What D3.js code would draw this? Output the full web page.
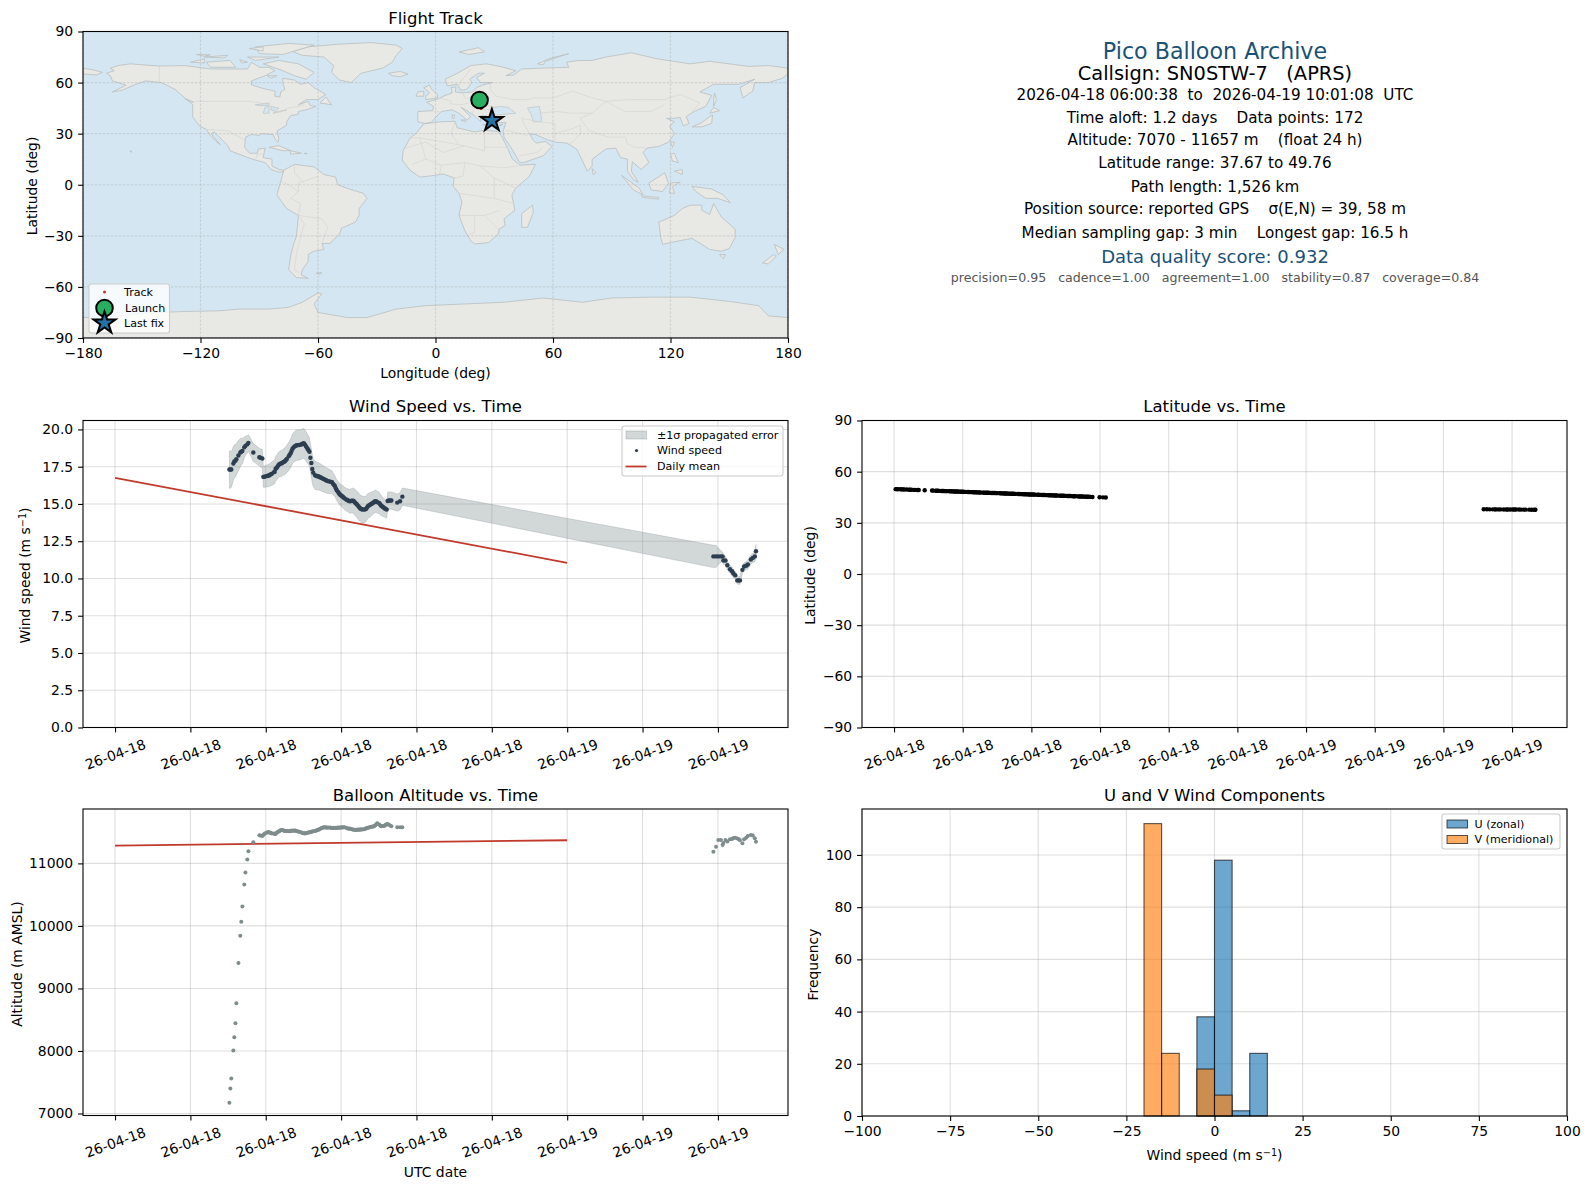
<!DOCTYPE html>
<html>
<head>
<meta charset="utf-8">
<script src="https://cdn.jsdelivr.net/npm/d3@7"></script>
<style>
html, body { margin: 0; background: #fff; }
text { font-family: "DejaVu Sans", sans-serif; fill: #000; white-space: pre; }
</style>
</head>
<body>
<div id="container"></div>
<script>
// hours since 2026-04-18 00:00 UTC
var hours = [
	6.07,6.12,6.17,6.28,6.33,6.39,6.44,6.55,6.65,6.70,6.76,6.86,6.92,7.02,7.08,7.34,
	7.66,7.71,7.82,7.87,7.92,7.97,8.07,8.12,8.17,8.22,
	8.27,8.32,8.42,8.47,8.52,8.57,8.62,8.67,8.72,8.77,
	8.82,8.87,8.92,8.97,9.02,9.07,9.12,9.22,9.27,9.32,
	9.37,9.42,9.47,9.52,9.57,9.62,9.67,9.72,9.77,9.87,
	9.92,9.97,10.02,10.07,10.12,10.17,10.22,10.27,10.32,10.37,
	10.42,10.47,10.52,10.62,10.67,10.72,10.77,10.82,10.87,10.92,
	10.97,11.02,11.07,11.12,11.17,11.22,11.27,11.32,11.42,11.47,
	11.52,11.57,11.62,11.67,11.72,11.77,11.82,11.87,11.92,11.97,
	12.02,12.07,12.12,12.17,12.27,12.32,12.37,12.42,12.47,12.52,
	12.57,12.62,12.67,12.72,12.77,12.82,12.87,12.92,12.97,13.02,
	13.07,13.12,13.22,13.27,13.32,13.37,13.42,13.47,13.52,13.57,
	13.62,13.67,13.72,13.77,13.82,13.87,13.92,14.02,14.07,14.12,
	14.17,14.22,14.27,14.32,14.37,14.42,14.47,14.53,14.60,14.67,
	14.98,15.13,15.25,
	31.76,31.90,32.02,32.16,32.25,32.29,32.40,32.50,32.64,32.75,32.82,32.92,
	33.03,33.10,33.17,33.30,33.39,33.50,33.59,33.75,33.85,33.96,34.02
];
var windSpeed = [
	17.31,17.31,17.31,17.71,17.85,17.90,18.00,18.25,18.45,18.50,18.55,18.80,18.90,19.00,19.10,18.45,
	18.14,18.10,18.05,16.82,16.82,16.85,16.88,16.90,16.91,16.95,
	17.00,17.02,17.12,17.15,17.35,17.42,17.50,17.60,17.66,17.70,
	17.72,17.75,17.80,17.84,17.87,17.95,18.02,18.20,18.30,18.40,
	18.55,18.70,18.78,18.85,18.90,18.92,18.95,18.95,18.96,18.98,
	19.02,19.05,19.07,19.00,18.90,18.80,18.70,18.60,18.50,18.10,
	17.75,17.35,17.10,16.92,16.90,16.88,16.85,16.85,16.80,16.78,
	16.75,16.70,16.68,16.65,16.60,16.58,16.55,16.52,16.50,16.48,
	16.46,16.35,16.28,16.20,16.05,15.92,15.83,15.75,15.65,15.60,
	15.55,15.50,15.45,15.38,15.30,15.27,15.24,15.20,15.18,15.20,
	15.22,15.22,15.20,15.12,15.05,15.00,14.92,14.85,14.76,14.70,
	14.66,14.63,14.62,14.64,14.66,14.75,14.85,14.90,14.93,14.98,
	15.02,15.05,15.10,15.15,15.18,15.16,15.12,15.07,14.98,14.90,
	14.85,14.80,14.75,14.70,14.66,14.62,15.20,15.23,15.23,15.23,
	15.09,15.18,15.49,
	11.48,11.48,11.48,11.48,11.48,11.21,11.21,10.89,10.62,10.49,10.33,10.22,
	9.87,9.87,9.87,10.58,10.80,10.85,10.94,11.27,11.38,11.48,11.83
];
var windSigma = [
	1.25,1.25,1.20,1.15,1.10,1.10,1.05,1.00,0.95,0.90,0.85,0.70,0.65,0.60,0.55,0.60,
	0.60,0.60,0.62,0.70,0.72,0.72,0.74,0.75,0.76,0.76,
	0.78,0.78,0.80,0.80,0.82,0.82,0.84,0.85,0.86,0.86,
	0.87,0.88,0.88,0.90,0.90,0.90,0.92,0.94,0.95,0.96,
	0.98,1.00,1.00,1.00,1.02,1.02,1.02,1.02,1.02,1.00,
	1.00,1.00,1.00,1.00,0.98,0.98,0.98,0.96,0.96,0.96,
	0.95,0.95,0.94,0.94,0.94,0.92,0.92,0.92,0.90,0.90,
	0.90,0.88,0.88,0.86,0.86,0.85,0.84,0.84,0.80,0.78,
	0.76,0.74,0.72,0.70,0.70,0.70,0.70,0.72,0.72,0.72,
	0.74,0.74,0.75,0.75,0.76,0.76,0.78,0.78,0.80,0.82,
	0.82,0.84,0.85,0.86,0.88,0.88,0.90,0.90,0.90,0.90,
	0.90,0.90,0.88,0.88,0.86,0.85,0.85,0.82,0.82,0.80,
	0.80,0.78,0.76,0.75,0.75,0.74,0.74,0.72,0.70,0.68,
	0.66,0.64,0.62,0.60,0.60,0.58,0.58,0.58,0.58,0.58,
	0.58,0.58,0.58,
	0.75,0.75,0.55,0.40,0.30,0.28,0.28,0.28,0.27,0.27,0.27,0.26,
	0.26,0.26,0.26,0.26,0.26,0.28,0.30,0.30,0.30,0.35,0.45
];
var altitude = [
	7173,7398,7559,8009,8218,8443,8765,9408,9842,10067,10309,10662,10855,11064,11193,11338,
	11450,11445,11438,11455,11470,11482,11495,11500,11502,11492,
	11485,11480,11478,11475,11471,11490,11500,11509,11515,11528,
	11534,11536,11530,11524,11520,11523,11518,11520,11516,11520,
	11527,11524,11522,11526,11525,11520,11515,11512,11508,11500,
	11492,11488,11484,11480,11482,11486,11490,11494,11498,11502,
	11506,11510,11514,11520,11526,11531,11536,11544,11552,11560,
	11566,11572,11578,11576,11580,11574,11570,11575,11573,11568,
	11565,11570,11566,11572,11568,11568,11574,11570,11576,11572,
	11578,11575,11580,11578,11570,11562,11560,11556,11557,11550,
	11546,11544,11540,11538,11538,11536,11541,11538,11544,11540,
	11546,11544,11548,11555,11560,11568,11572,11573,11578,11582,
	11585,11590,11589,11600,11612,11628,11643,11622,11606,11596,
	11598,11597,11600,11605,11618,11625,11632,11620,11605,11595,
	11578,11578,11578,
	11187,11268,11375,11375,11295,11325,11375,11350,11385,11391,11405,11412,
	11400,11391,11370,11321,11385,11412,11440,11455,11445,11402,11348
];
var latitude = [
	49.76,49.74,49.70,49.66,49.62,49.60,49.57,49.51,49.46,49.43,49.40,49.34,49.31,49.26,49.23,49.09,
	48.92,48.90,48.84,48.81,48.78,48.75,48.70,48.67,48.65,48.62,
	48.59,48.57,48.51,48.49,48.46,48.43,48.41,48.38,48.35,48.33,
	48.30,48.27,48.25,48.22,48.19,48.17,48.14,48.09,48.06,48.03,
	48.01,47.98,47.95,47.93,47.90,47.87,47.85,47.82,47.79,47.74,
	47.71,47.69,47.66,47.63,47.61,47.58,47.55,47.53,47.50,47.47,
	47.45,47.42,47.39,47.34,47.31,47.29,47.26,47.23,47.21,47.18,
	47.15,47.13,47.10,47.07,47.05,47.02,46.99,46.97,46.91,46.89,
	46.86,46.83,46.81,46.78,46.75,46.73,46.70,46.67,46.65,46.62,
	46.59,46.57,46.54,46.51,46.46,46.43,46.41,46.38,46.35,46.33,
	46.30,46.27,46.25,46.22,46.19,46.17,46.14,46.11,46.09,46.06,
	46.03,46.01,45.95,45.93,45.90,45.87,45.85,45.82,45.79,45.77,
	45.74,45.71,45.69,45.66,45.63,45.61,45.58,45.53,45.50,45.47,
	45.45,45.42,45.39,45.37,45.34,45.31,45.29,45.25,45.21,45.18,
	45.02,44.94,44.87,
	37.95,37.93,37.92,37.91,37.90,37.89,37.88,37.87,37.85,37.84,37.83,37.82,
	37.81,37.80,37.79,37.78,37.76,37.75,37.74,37.72,37.70,37.69,37.67
];
var longitude = [
	22.50,22.50,22.51,22.52,22.52,22.53,22.54,22.54,22.55,22.56,22.56,22.57,22.58,22.58,22.59,22.60,
	22.61,22.61,22.62,22.62,22.63,22.63,22.64,22.64,22.65,22.65,
	22.66,22.66,22.67,22.67,22.68,22.68,22.69,22.69,22.70,22.70,
	22.71,22.71,22.72,22.72,22.73,22.73,22.74,22.74,22.75,22.75,
	22.76,22.76,22.77,22.77,22.78,22.78,22.79,22.79,22.80,22.80,
	22.81,22.81,22.82,22.82,22.83,22.83,22.84,22.84,22.85,22.85,
	22.86,22.86,22.87,22.87,22.88,22.88,22.89,22.89,22.90,22.90,
	22.91,22.91,22.92,22.92,22.93,22.93,22.94,22.94,22.95,22.95,
	22.96,22.96,22.97,22.97,22.98,22.98,22.99,22.99,23.00,23.00,
	23.01,23.01,23.02,23.02,23.03,23.03,23.04,23.04,23.05,23.05,
	23.06,23.06,23.07,23.07,23.08,23.08,23.09,23.09,23.10,23.10,
	23.11,23.11,23.12,23.12,23.13,23.13,23.14,23.14,23.15,23.15,
	23.16,23.16,23.17,23.17,23.18,23.18,23.19,23.19,23.20,23.20,
	23.21,23.21,23.22,23.22,23.23,23.23,23.24,23.24,23.25,23.25,
	23.27,23.28,23.30,
	28.20,28.22,28.24,28.27,28.29,28.30,28.32,28.35,28.38,28.40,28.42,28.45,
	28.48,28.50,28.52,28.55,28.58,28.60,28.62,28.66,28.70,28.74,28.80
];

var launchFix = [22.5, 49.76];
var lastFix = [28.8, 37.67];

var meanHours = [0, 24];
var meanWind = [16.75, 11.05];
var meanAltitude = [11285, 11370];

var binStarts = [-20, -15, -5, 0, 5, 10];
var binWidth = 5;
var uCounts = [0, 0, 38, 98, 2, 24];
var vCounts = [112, 24, 18, 8, 0, 0];

var lonTicks = [-180, -120, -60, 0, 60, 120, 180];
var latTicks = [-90, -60, -30, 0, 30, 60, 90];
var windTicks = [0, 2.5, 5, 7.5, 10, 12.5, 15, 17.5, 20];
var altTicks = [7000, 8000, 9000, 10000, 11000];
var freqTicks = [0, 20, 40, 60, 80, 100];
var histTicks = [-100, -75, -50, -25, 0, 25, 50, 75, 100];

// rough coastlines, lon/lat
var land = [
	// north america
	[[-168,65.5],[-164,67],[-166,68.5],[-162,70],[-156,71],[-141,69.7],[-128,70],[-115,68],[-108,68],[-96,68],[-94,72],[-90,69],[-85,69],[-82,67],[-87,64],[-94,61],[-94,58.7],[-88,56.5],[-82,55],[-82,52],[-79.5,51.5],[-79,54.5],[-77,56],[-78,60],[-78,62.5],[-72,61.5],[-69,59],[-65,60],[-62,57],[-56,53],[-60,50],[-66,50],[-70,47],[-65,49],[-64,46.5],[-61,46],[-66,44],[-70,43],[-70,41.5],[-74,40.5],[-76,37],[-76,35],[-81,31.5],[-80,27],[-80.5,25],[-82,27],[-83,29.5],[-85,29.7],[-89,30],[-90,29],[-94,29.5],[-97,28],[-97.5,22],[-95,18.5],[-91,18.5],[-90.5,21],[-87,21.5],[-88,16],[-83.5,15],[-83.5,11],[-80,9],[-77.5,8.5],[-78,7.5],[-80.5,7.5],[-84,9],[-87,13],[-92,14.5],[-96,16],[-105,20],[-106,23],[-110,27.5],[-113,31],[-114.5,30],[-110,23.5],[-112,25.5],[-115,29],[-117,32.5],[-120.5,34.5],[-124,40],[-124,47],[-128,51],[-133,56],[-140,60],[-148,61],[-153,59],[-160,55.5],[-165,54.5],[-158,58.5],[-165,61],[-166,64]],
	// south america
	[[-77.5,8.5],[-72,12],[-62,10.5],[-57,6],[-51,4.5],[-50,0],[-44,-2.5],[-37,-5],[-35,-8],[-39,-14],[-39,-18],[-41,-22],[-48,-25.5],[-49,-29],[-54,-34.5],[-58,-34.5],[-57,-38],[-62,-39],[-65,-41],[-65,-45],[-68,-50],[-68.5,-53],[-65,-55],[-71,-54.5],[-75,-50],[-74,-42],[-73,-37],[-71,-30],[-70,-18],[-76,-14],[-81,-6],[-80,-2],[-79,2]],
	// africa
	[[-6,35.8],[3,37],[10,37.3],[11,33.5],[20,31],[25,32],[32,31.2],[34,28],[37,21],[39,15.5],[43,11.5],[51,12],[48,5],[41,-2],[39,-6],[40.5,-15],[35,-20],[35.5,-24],[32.5,-26],[32,-29],[27,-34],[20,-34.8],[18,-33],[15,-27],[12,-18],[13.5,-10],[12,-5],[9,-1],[9.5,4],[4,6.3],[-4,5],[-8,4.5],[-13,8.5],[-17,14.5],[-16.5,20],[-13,27.5],[-10,30]],
	// eurasia
	[[-9,37],[-9,43],[-1.5,43.5],[-1,46],[-4.5,48.5],[1.5,50.5],[4,52],[8.5,54],[8,57],[10.5,57.5],[10,54.5],[14,54],[19,54.5],[21,57],[24,58.5],[29,60],[23,60],[21,63],[25,65.5],[22,65.5],[17.5,62],[18.5,60],[16,56],[13,55.5],[11,59],[6,58],[5,62],[12,66],[18,70],[26,71],[33,69.5],[41,67],[36,64],[40,64.5],[44,68],[54,68.5],[68,69],[67,72],[73,73],[80,73],[87,75],[100,77.5],[113,74],[130,71],[140,72.5],[160,69.5],[170,70],[180,68.5],[180,65],[177,62.5],[170,60],[163,60],[162,55],[157,51],[155.5,57],[163,62],[155,59],[142,59],[135,54.5],[141,52.5],[138,46],[132,43],[128,40],[129.5,36],[126.5,34.5],[125,39.5],[121.5,39],[118,39],[122,37],[119.5,34.5],[122,30],[119,25],[114,22.5],[108,21.5],[106,19],[109,13],[105,9],[100.5,13.5],[100,8],[103.5,1.5],[101,3],[98,8],[98,15],[94.5,16],[92,21.5],[87,21],[80,15],[80,11],[77.5,8],[73,19],[72,21],[67,24.5],[61,25],[57,26.5],[51,29.5],[48,30],[50,26],[51.5,24.5],[56,25.5],[59.5,22.5],[55,17],[45,13],[43,13],[39,21],[35,28],[34.5,31.5],[36,36.5],[30,36.5],[26.5,38.5],[26,40.5],[23,40.5],[23,37],[19.5,41],[13,45.5],[18,40],[16,38],[12,42],[8.5,44],[3,43],[0,39.5],[-2,36.7],[-5.5,36]],
	// chukotka across the date line
	[[-180,68.5],[-175,67.5],[-170,66],[-173,64.5],[-180,65]],
	// greenland
	[[-73,78.2],[-65,81],[-50,82.5],[-33,83.5],[-20,82],[-17,80],[-20,76],[-22,72],[-27,68.5],[-38,65.5],[-43,60],[-49,61.5],[-53,66],[-52,70],[-57,75],[-68,76]],
	// antarctica
	[[-180,-78],[-160,-77],[-150,-75.5],[-130,-74.5],[-110,-74],[-100,-73],[-85,-73],[-75,-72],[-68,-69],[-60,-63.5],[-58,-64],[-62,-70],[-60,-75],[-45,-78],[-35,-78],[-20,-73],[-5,-71],[15,-70],[35,-69],[55,-66.5],[75,-69],[90,-66.5],[110,-66],[130,-66],[150,-68.5],[165,-71],[170,-77],[180,-78],[180,-90],[-180,-90]],
	// australia
	[[114,-22],[122,-18],[126,-14],[130,-12],[136,-12],[136,-15],[140,-17.5],[142,-11],[146,-19],[153,-26],[153,-31],[150,-37.5],[146,-39],[140,-38],[136,-35],[131,-31.5],[124,-33],[116,-35],[115,-31]],
	// islands
	[[49.5,-12],[50,-16],[47,-25],[44,-25],[44,-17]],
	[[-5,50],[1,51],[1,53],[-2,56],[-3,58.5],[-6,57],[-3,54],[-5,52]],
	[[-10,52],[-6,52],[-6,55],[-9,54.5]],
	[[-24,65.5],[-18,66.5],[-14,65],[-18,63.5],[-22,64]],
	[[131,34],[136,34],[141,36],[141.5,41],[140,40],[136,36.5]],
	[[140,42],[142,45.5],[145,43.5]],
	[[142,46],[143.5,50],[142.5,54],[142,50]],
	[[120,25],[122,25],[121,22]],
	[[120,18],[122,18.5],[124,13],[121,14]],
	[[122,8],[126,9],[126,6]],
	[[109,1],[117,7],[119,1],[116,-4],[110,-3]],
	[[95,5.5],[104,-2],[106,-6],[101,-3]],
	[[105,-6.5],[114,-7.5],[114,-8.5],[106,-7.5]],
	[[120,1],[125,1.5],[121,-1],[122,-5],[119.5,-5]],
	[[131,-1],[141,-2.5],[147,-6],[150.5,-10.5],[144,-8],[138,-8],[133,-4]],
	[[173,-35],[178,-38],[175,-41],[174,-38]],
	[[172.5,-41],[174,-42],[170,-46.5],[167,-46]],
	[[-85,22],[-80,23],[-74,20],[-78,20]],
	[[-74,20],[-68.5,18.5],[-74,18]],
	[[-67,18.5],[-65.5,18.4],[-66,18]],
	[[80,9.5],[82,7],[80.5,6]],
	[[12,78],[22,80.5],[25,78],[17,76.5]],
	[[52,71],[58,74],[68,77],[56,72.5],[55,70.5]],
	[[-80,73],[-70,71],[-62,66],[-66,62],[-72,64],[-78,67],[-88,71]],
	[[-117,72],[-105,73],[-102,69],[-115,69]],
	[[-125,72],[-118,74],[-118,71.5]],
	[[-90,77],[-78,76.5],[-62,82],[-75,83],[-92,81]],
	[[-96,75],[-80,75],[-92,73]],
	[[-118,75],[-106,76],[-108,74.5]],
	[[-100,73.5],[-96,72],[-99,71.5]],
	[[-86,64],[-81,64],[-84,62.5]],
	[[-95,80],[-88,81],[-88,78.5]],
	[[-122,76.5],[-115,76.3],[-118,75.5]],
	[[-128,50.7],[-123.5,48.5],[-125,48.7]],
	[[-59,48],[-53,47],[-56,51.5]],
	[[145,-41],[148,-41],[147,-43.5]],
	[[-156,20],[-155,19.5],[-155.5,19]],
	[[-61,-52],[-58,-51.5],[-59,-52.5]],
	[[13,38],[15.5,38],[15,37]],
	[[8.5,41],[9.7,41],[9.5,39],[8.5,39]],
	[[24,35.5],[26,35.3],[25,35]],
	[[32.5,35],[34.5,35.6],[33.5,34.7]]
];
var inlandWater = [
	[[28,42],[28,45],[33,46],[37,45.5],[41,42],[36,41.5],[31,41]],
	[[47,45],[53,46],[54,40],[54,37],[50,37],[49,41]],
	[[-92,47],[-85,48],[-85,46.5],[-90,46.5]],
	[[-88,42],[-85,42],[-85,46],[-87,45.5]],
	[[-84,46],[-80,45],[-82,43],[-84,44]],
	[[-83,42],[-79,43],[-76,44],[-78,43.5],[-82,42.6]]
];
var borders = [
	[[-123,49],[-95,49],[-89,48],[-83,46],[-82,42.5],[-79,43],[-75,45],[-70,46],[-67,47]],
	[[-141,70],[-141,60]],
	[[-117,32.5],[-106,31.7],[-97,26]],
	[[-92,14.5],[-91,17.8],[-88,18]],
	[[-70,-18],[-69,-11],[-74,-8],[-70,-4],[-70,1],[-60,5]],
	[[-70,-18],[-58,-20],[-55,-25],[-58,-34]],
	[[-70,-18],[-67,-23],[-71,-40],[-72,-50],[-69,-52]],
	[[-79,2],[-75,0],[-70,-4]],
	[[-72,12],[-72,7],[-67,1]],
	[[28,60],[28,56],[31,52],[40,50],[47,50],[50,51],[60,51],[70,55],[80,51],[87,49],[98,50],[107,50],[117,50],[125,53],[135,48],[131,43]],
	[[74,39],[80,42],[87,49]],
	[[74,39],[78,32],[88,28],[97,28],[98,24],[102,22],[108,21.5]],
	[[87,49],[97,43],[110,43],[117,47]],
	[[53,42],[62,43],[70,42],[80,42]],
	[[44,39],[46,34],[48,30]],
	[[44,39],[53,37],[61,36],[61,25]],
	[[61,30],[70,33],[74,35],[74,30],[70,25],[68,24]],
	[[36,32],[47,29]],
	[[43,17],[52,19],[55,22]],
	[[-1.5,43.4],[3,42.5]],
	[[2.5,51],[8,49],[7.5,47.5],[13,47],[17,48]],
	[[14,54],[15,51],[19,49.5],[24,48],[29,45.5]],
	[[24,54],[24,50.5]],
	[[19,42],[20,46],[23,44],[28,44]],
	[[12,55],[12,59],[18,68]],
	[[-13,27.5],[-8,27.5],[12,23.5],[25,20],[25,32]],
	[[25,22],[37,22]],
	[[-17,21],[-5,25],[4,19],[15,23]],
	[[3,11.5],[15,13],[23,11],[35,10],[42,11]],
	[[15,13],[14,5],[9.5,4]],
	[[23,11],[30,4],[41,-2]],
	[[12,-5],[30,-8],[40,-11]],
	[[30,4],[30,-8]],
	[[12,-18],[25,-18],[33,-15]],
	[[20,-18],[20,-28],[17,-29]],
	[[25,-18],[32,-26]],
	[[-8,27.5],[-5,15],[-12,12]],
	[[-5,15],[3,11.5],[2,6]],
	[[10,37],[8,30],[12,23.5]]
];

var infoLines = [
	['Pico Balloon Archive', 22.2, '#1a5276', 51],
	['Callsign: SN0STW-7   (APRS)', 19.4, '#000', 73],
	['2026-04-18 06:00:38  to  2026-04-19 10:01:08  UTC', 15.2, '#000', 94.5],
	['Time aloft: 1.2 days    Data points: 172', 15.2, '#000', 117.5],
	['Altitude: 7070 - 11657 m    (float 24 h)', 15.2, '#000', 140],
	['Latitude range: 37.67 to 49.76', 15.2, '#000', 163],
	['Path length: 1,526 km', 15.2, '#000', 186.5],
	['Position source: reported GPS    σ(E,N) = 39, 58 m', 15.2, '#000', 209],
	['Median sampling gap: 3 min    Longest gap: 16.5 h', 15.2, '#000', 232.5],
	['Data quality score: 0.932', 18, '#1a5276', 257],
	['precision=0.95   cadence=1.00   agreement=1.00   stability=0.87   coverage=0.84', 12.6, '#555', 277.5]
];

var svg = d3.select('#container').append('svg')
	.attr('width', 1590)
	.attr('height', 1189)
	.style('display', 'block');

var t0 = Date.UTC(2026, 3, 18);
function toDate(h) { return new Date(t0 + h * 3600000); }
var fmtDate = d3.utcFormat('%y-%m-%d');
var points = hours.map(function(h, i) { return i; });

function makePanel(box, title, titleY) {
	var g = svg.append('g');
	g.box = box;
	svg.append('text')
		.attr('x', (box.x0 + box.x1) / 2)
		.attr('y', titleY)
		.attr('text-anchor', 'middle')
		.style('font-size', '16.5px')
		.text(title);
	return g;
}

function addGrid(g, x, y, xv, yv, dash) {
	var b = g.box;
	var grid = g.append('g')
		.attr('stroke', '#b0b0b0')
		.attr('stroke-opacity', 0.4)
		.attr('stroke-width', 1.1)
		.attr('stroke-dasharray', dash || null);
	grid.selectAll('.gx').data(xv).enter().append('line')
		.attr('x1', function(d) { return x(d); }).attr('x2', function(d) { return x(d); })
		.attr('y1', b.y0).attr('y2', b.y1);
	grid.selectAll('.gy').data(yv).enter().append('line')
		.attr('y1', function(d) { return y(d); }).attr('y2', function(d) { return y(d); })
		.attr('x1', b.x0).attr('x2', b.x1);
}

function addAxes(g, x, y, xAxis, yAxis, rotated) {
	var b = g.box;
	g.append('rect')
		.attr('x', b.x0).attr('y', b.y0)
		.attr('width', b.x1 - b.x0).attr('height', b.y1 - b.y0)
		.attr('fill', 'none').attr('stroke', '#000').attr('stroke-width', 1.1);
	var ax = g.append('g').attr('transform', 'translate(0,' + b.y1 + ')')
		.call(xAxis.tickSize(4.9).tickPadding(4.9));
	var ay = g.append('g').attr('transform', 'translate(' + b.x0 + ',0)')
		.call(yAxis.tickSize(4.9).tickPadding(4.9));
	ax.select('.domain').remove();
	ay.select('.domain').remove();
	ax.selectAll('line').attr('stroke-width', 1.1);
	ay.selectAll('line').attr('stroke-width', 1.1);
	ax.selectAll('text').style('font-size', '13.9px');
	ay.selectAll('text').style('font-size', '13.9px');
	ax.attr('font-family', null);
	ay.attr('font-family', null);
	if (rotated) {
		ax.selectAll('text')
			.attr('y', 0).attr('dy', '0.35em')
			.attr('text-anchor', 'middle')
			.attr('transform', 'translate(0,27) rotate(-20)');
	}
}

function axisLabel(x, y, parts, rotate) {
	var t = svg.append('text')
		.attr('text-anchor', 'middle')
		.attr('transform', 'translate(' + x + ',' + y + ')' + (rotate ? ' rotate(-90)' : ''))
		.style('font-size', '13.9px');
	t.append('tspan').text(parts[0]);
	if (parts.length > 1) {
		t.append('tspan').attr('dy', '-0.42em').style('font-size', '9.7px').text(parts[1]);
		t.append('tspan').attr('dy', '0.3em').text(parts[2]);
	}
}

function legendBox(x, y, w, h) {
	var l = svg.append('g');
	l.append('rect')
		.attr('x', x).attr('y', y).attr('width', w).attr('height', h)
		.attr('rx', 2.5)
		.attr('fill', '#fff').attr('fill-opacity', 0.8)
		.attr('stroke', '#ccc').attr('stroke-width', 1.1);
	return l;
}
function legendText(l, x, y, s) {
	l.append('text').attr('x', x).attr('y', y).attr('dy', '0.35em')
		.style('font-size', '11.1px').text(s);
}

/* ---- map ---- */
var mapPanel = makePanel({ x0: 83, x1: 788, y0: 31.5, y1: 338 }, 'Flight Track', 23.5);
var mapX = d3.scaleLinear().domain([-180, 180]).range([83, 788]);
var mapY = d3.scaleLinear().domain([-90, 90]).range([338, 31.5]);
var coast = d3.line().x(function(d) { return mapX(d[0]); }).y(function(d) { return mapY(d[1]); });

svg.append('clipPath').attr('id', 'mapclip').append('rect')
	.attr('x', 83).attr('y', 31.5).attr('width', 705).attr('height', 306.5);
var mapG = mapPanel.append('g').attr('clip-path', 'url(#mapclip)');
mapG.append('rect')
	.attr('x', 83).attr('y', 31.5).attr('width', 705).attr('height', 306.5)
	.attr('fill', '#d4e6f1');
mapG.selectAll('.land').data(land).enter().append('path')
	.attr('d', function(d) { return coast(d) + 'Z'; })
	.attr('fill', '#e8e8e4')
	.attr('stroke', '#b9bfc0')
	.attr('stroke-width', 0.8)
	.attr('stroke-linejoin', 'round');
mapG.selectAll('.lake').data(inlandWater).enter().append('path')
	.attr('d', function(d) { return coast(d) + 'Z'; })
	.attr('fill', '#d4e6f1')
	.attr('stroke', '#b9bfc0')
	.attr('stroke-width', 0.6);
mapG.selectAll('.border').data(borders).enter().append('path')
	.attr('d', coast)
	.attr('fill', 'none')
	.attr('stroke', '#d6d6d2')
	.attr('stroke-width', 0.7);
addGrid(mapPanel, mapX, mapY, lonTicks, latTicks, '2.5,1.5');

var mapMarks = mapPanel.append('g').attr('clip-path', 'url(#mapclip)');
mapMarks.selectAll('.track').data(points).enter().append('circle')
	.attr('cx', function(i) { return mapX(longitude[i]); })
	.attr('cy', function(i) { return mapY(latitude[i]); })
	.attr('r', 1.5)
	.attr('fill', '#c0392b');
mapMarks.append('circle')
	.attr('cx', mapX(launchFix[0])).attr('cy', mapY(launchFix[1])).attr('r', 8.3)
	.attr('fill', '#27ae60').attr('stroke', '#000').attr('stroke-width', 2);
var star = d3.symbol().type(d3.symbolStar).size(150);
mapMarks.append('path').attr('d', star)
	.attr('transform', 'translate(' + mapX(lastFix[0]) + ',' + mapY(lastFix[1]) + ')')
	.attr('fill', '#2471a3').attr('stroke', '#000').attr('stroke-width', 2);

addAxes(mapPanel, mapX, mapY,
	d3.axisBottom(mapX).tickValues(lonTicks).tickFormat(d3.format('d')),
	d3.axisLeft(mapY).tickValues(latTicks).tickFormat(d3.format('d')));
axisLabel(435.5, 378, ['Longitude (deg)']);
axisLabel(36.5, 186, ['Latitude (deg)'], true);

var mapLegend = legendBox(89, 284, 80.5, 49);
mapLegend.append('circle').attr('cx', 104.5).attr('cy', 292).attr('r', 1.5).attr('fill', '#c0392b');
mapLegend.append('circle').attr('cx', 104.5).attr('cy', 308).attr('r', 8.3)
	.attr('fill', '#27ae60').attr('stroke', '#000').attr('stroke-width', 2);
mapLegend.append('path').attr('d', star).attr('transform', 'translate(104.5,323)')
	.attr('fill', '#2471a3').attr('stroke', '#000').attr('stroke-width', 2);
legendText(mapLegend, 124, 292, 'Track');
legendText(mapLegend, 125, 308, 'Launch');
legendText(mapLegend, 124, 323, 'Last fix');

/* ---- info block ---- */
svg.selectAll('.info').data(infoLines).enter().append('text')
	.attr('x', 1215)
	.attr('y', function(d) { return d[3]; })
	.attr('dy', '0.35em')
	.attr('text-anchor', 'middle')
	.style('font-size', function(d) { return d[1] + 'px'; })
	.style('fill', function(d) { return d[2]; })
	.text(function(d) { return d[0]; });

/* ---- wind speed ---- */
var leftTime = d3.scaleUtc().domain([toDate(-1.7), toDate(35.72)]).range([83, 788]);
var hourTicks4 = leftTime.ticks(d3.utcHour.every(4));

var windPanel = makePanel({ x0: 83, x1: 788, y0: 420.5, y1: 727.5 }, 'Wind Speed vs. Time', 411.5);
var windY = d3.scaleLinear().domain([0, 20.6]).range([727.5, 420.5]);
addGrid(windPanel, leftTime, windY, hourTicks4, windTicks);
windPanel.append('path')
	.datum(points)
	.attr('d', d3.area()
		.x(function(i) { return leftTime(toDate(hours[i])); })
		.y0(function(i) { return windY(windSpeed[i] - windSigma[i]); })
		.y1(function(i) { return windY(windSpeed[i] + windSigma[i]); }))
	.attr('fill', '#7f8c8d').attr('fill-opacity', 0.35)
	.attr('stroke', '#7f8c8d').attr('stroke-opacity', 0.35).attr('stroke-width', 0.8);
windPanel.append('path')
	.datum(meanHours)
	.attr('d', d3.line()
		.x(function(h) { return leftTime(toDate(h)); })
		.y(function(h, i) { return windY(meanWind[i]); }))
	.attr('fill', 'none').attr('stroke', '#c0392b').attr('stroke-width', 1.8);
windPanel.selectAll('.wp').data(points).enter().append('circle')
	.attr('cx', function(i) { return leftTime(toDate(hours[i])); })
	.attr('cy', function(i) { return windY(windSpeed[i]); })
	.attr('r', 2.2)
	.attr('fill', '#2c3e50');
addAxes(windPanel, leftTime, windY,
	d3.axisBottom(leftTime).tickValues(hourTicks4).tickFormat(fmtDate),
	d3.axisLeft(windY).tickValues(windTicks).tickFormat(d3.format('.1f')), true);
axisLabel(30, 575.5, ['Wind speed (m s', '−1', ')'], true);

var windLegend = legendBox(622, 426, 161, 50);
windLegend.append('rect').attr('x', 626).attr('y', 431).attr('width', 20.5).attr('height', 8)
	.attr('fill', '#7f8c8d').attr('fill-opacity', 0.35)
	.attr('stroke', '#7f8c8d').attr('stroke-opacity', 0.35);
windLegend.append('circle').attr('cx', 636.5).attr('cy', 450.5).attr('r', 1.6).attr('fill', '#2c3e50');
windLegend.append('line').attr('x1', 625.5).attr('x2', 646.5).attr('y1', 466.5).attr('y2', 466.5)
	.attr('stroke', '#c0392b').attr('stroke-width', 1.8);
legendText(windLegend, 657, 435, '±1σ propagated error');
legendText(windLegend, 657, 450.5, 'Wind speed');
legendText(windLegend, 657, 466.5, 'Daily mean');

/* ---- latitude ---- */
var latTime = d3.scaleUtc().domain([toDate(4.6), toDate(35.4)]).range([862, 1567]);
var hourTicks3 = latTime.ticks(d3.utcHour.every(3));
var latPanel = makePanel({ x0: 862, x1: 1567, y0: 420.5, y1: 727.5 }, 'Latitude vs. Time', 411.5);
var latY = d3.scaleLinear().domain([-90, 90]).range([727.5, 420.5]);
addGrid(latPanel, latTime, latY, hourTicks3, latTicks);
latPanel.selectAll('.lp').data(points).enter().append('circle')
	.attr('cx', function(i) { return latTime(toDate(hours[i])); })
	.attr('cy', function(i) { return latY(latitude[i]); })
	.attr('r', 2.2)
	.attr('fill', '#000');
addAxes(latPanel, latTime, latY,
	d3.axisBottom(latTime).tickValues(hourTicks3).tickFormat(fmtDate),
	d3.axisLeft(latY).tickValues(latTicks).tickFormat(d3.format('d')), true);
axisLabel(815, 575.5, ['Latitude (deg)'], true);

/* ---- altitude ---- */
var altPanel = makePanel({ x0: 83, x1: 788, y0: 809, y1: 1115.5 }, 'Balloon Altitude vs. Time', 801);
var altY = d3.scaleLinear().domain([6968, 11870]).range([1115.5, 809]);
addGrid(altPanel, leftTime, altY, hourTicks4, altTicks);
altPanel.append('path')
	.datum(meanHours)
	.attr('d', d3.line()
		.x(function(h) { return leftTime(toDate(h)); })
		.y(function(h, i) { return altY(meanAltitude[i]); }))
	.attr('fill', 'none').attr('stroke', '#c0392b').attr('stroke-width', 1.8);
altPanel.selectAll('.ap').data(points).enter().append('circle')
	.attr('cx', function(i) { return leftTime(toDate(hours[i])); })
	.attr('cy', function(i) { return altY(altitude[i]); })
	.attr('r', 2)
	.attr('fill', '#7f8c8d');
addAxes(altPanel, leftTime, altY,
	d3.axisBottom(leftTime).tickValues(hourTicks4).tickFormat(fmtDate),
	d3.axisLeft(altY).tickValues(altTicks).tickFormat(d3.format('d')), true);
axisLabel(22, 964, ['Altitude (m AMSL)'], true);
axisLabel(435.5, 1177, ['UTC date']);

/* ---- u / v histogram ---- */
var histPanel = makePanel({ x0: 862, x1: 1567, y0: 809, y1: 1116 }, 'U and V Wind Components', 801);
var histX = d3.scaleLinear().domain([-100, 100]).range([862, 1567]);
var histY = d3.scaleLinear().domain([0, 117.6]).range([1116, 809]);
addGrid(histPanel, histX, histY, histTicks, freqTicks);
[[uCounts, '#1f77b4'], [vCounts, '#ff7f0e']].forEach(function(s) {
	histPanel.selectAll('.bar' + s[1].slice(1)).data(binStarts).enter().append('rect')
		.filter(function(d, i) { return s[0][i] > 0; })
		.attr('x', function(d) { return histX(d); })
		.attr('width', function(d) { return histX(d + binWidth) - histX(d); })
		.attr('y', function(d) { return histY(s[0][binStarts.indexOf(d)]); })
		.attr('height', function(d) { return histY(0) - histY(s[0][binStarts.indexOf(d)]); })
		.attr('fill', s[1]).attr('fill-opacity', 0.65)
		.attr('stroke', '#000').attr('stroke-opacity', 0.65).attr('stroke-width', 1.1);
});
addAxes(histPanel, histX, histY,
	d3.axisBottom(histX).tickValues(histTicks).tickFormat(d3.format('d')),
	d3.axisLeft(histY).tickValues(freqTicks).tickFormat(d3.format('d')));
axisLabel(1214.5, 1160, ['Wind speed (m s', '−1', ')']);
axisLabel(818, 964.5, ['Frequency'], true);

var histLegend = legendBox(1442, 814, 118, 35);
histLegend.append('rect').attr('x', 1447).attr('y', 820).attr('width', 20.5).attr('height', 8)
	.attr('fill', '#1f77b4').attr('fill-opacity', 0.65)
	.attr('stroke', '#000').attr('stroke-opacity', 0.65);
histLegend.append('rect').attr('x', 1447).attr('y', 835.5).attr('width', 20.5).attr('height', 8)
	.attr('fill', '#ff7f0e').attr('fill-opacity', 0.65)
	.attr('stroke', '#000').attr('stroke-opacity', 0.65);
legendText(histLegend, 1474.5, 824, 'U (zonal)');
legendText(histLegend, 1474.5, 839.5, 'V (meridional)');
</script>
</body>
</html>
